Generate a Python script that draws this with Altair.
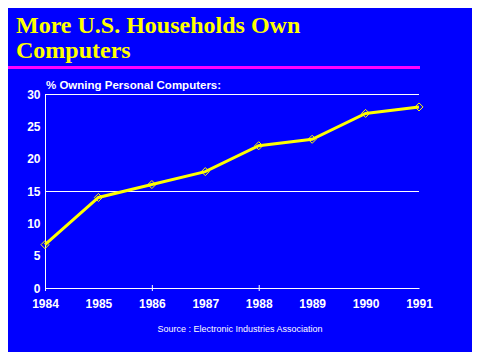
import altair as alt
import pandas as pd

years = [1984, 1985, 1986, 1987, 1988, 1989, 1990, 1991]
pct = [6.7, 14, 16, 18, 22, 23, 27, 28]
y_labels = [0, 5, 10, 15, 20, 25, 30]
grid_values = [15, 30]
tick_years = [1984, 1986, 1988]
title_lines = ["More U.S. Households Own", "Computers"]
subtitle = "% Owning Personal Computers:"
source = "Source : Electronic Industries Association"

YELLOW = "#ffff00"
WHITE = "#ffffff"
BLUE = "#0000ff"

df = pd.DataFrame({"year": years, "pct": pct})

xs = alt.Scale(domain=[1984, 1991], nice=False, zero=False)
ys = alt.Scale(domain=[0, 30], nice=False)

xaxis = alt.Axis(values=years, format="d", labelColor=WHITE, labelFont="Liberation Sans",
                 labelFontWeight="bold", labelFontSize=12, ticks=False, labelPadding=10,
                 domainColor=WHITE, domainWidth=1, grid=False, labelFlush=False)
yaxis = alt.Axis(values=y_labels, labelColor=WHITE, labelFont="Liberation Sans",
                 labelFontWeight="bold", labelFontSize=12, ticks=False, labelPadding=5,
                 domainColor=WHITE, domainWidth=1, grid=False)

base = alt.Chart(df)

grid = alt.Chart(pd.DataFrame({"g": grid_values})).mark_rule(color=WHITE, strokeWidth=1, yOffset=0.5).encode(
    y=alt.Y("g:Q", scale=ys, axis=yaxis, title=None),
    x=alt.value(0), x2=alt.value(374),
)

ticks = alt.Chart(pd.DataFrame({"t": tick_years})).mark_rule(color=WHITE, strokeWidth=1, xOffset=0.5).encode(
    x=alt.X("t:Q", scale=xs, axis=xaxis, title=None),
    y=alt.value(191), y2=alt.value(197),
)

line = base.mark_line(color=YELLOW, strokeWidth=3).encode(
    x=alt.X("year:Q", scale=xs, axis=xaxis, title=None),
    y=alt.Y("pct:Q", scale=ys, axis=yaxis, title=None),
)

points = base.mark_point(shape="diamond", filled=False, color=YELLOW, strokeWidth=1, size=65, opacity=1).encode(
    x=alt.X("year:Q", scale=xs, axis=xaxis, title=None),
    y=alt.Y("pct:Q", scale=ys, axis=yaxis, title=None),
)

def text_layer(txt, x, y, **kw):
    return alt.Chart(pd.DataFrame({"s": [txt]})).mark_text(baseline="alphabetic", **kw).encode(
        text="s:N", x=alt.value(x), y=alt.value(y))

title1 = text_layer(title_lines[0], -29, -61, color=YELLOW, font="Liberation Serif",
                    fontWeight="bold", fontSize=24, align="left")
title2 = text_layer(title_lines[1], -29, -36, color=YELLOW, font="Liberation Serif",
                    fontWeight="bold", fontSize=24, align="left")

magenta = alt.Chart(pd.DataFrame({"a": [0]})).mark_rule(color="#ff00ff", strokeWidth=3).encode(
    x=alt.value(-44), x2=alt.value(375), y=alt.value(-26.5),
)

sub = text_layer(subtitle, 1, -5, color=WHITE, font="Liberation Sans", fontWeight="bold",
                 fontSize=11.5, align="left")
src = text_layer(source, 195, 238, color=WHITE, font="Liberation Sans", fontSize=9, align="center")

chart = alt.layer(grid, ticks, line, points, title1, title2, magenta, sub, src).properties(
    width=374, height=194, autosize="none",
    padding={"left": 37, "top": 86, "right": 53, "bottom": 64},
    background=BLUE,
).configure_view(strokeWidth=0)

chart.save("out.html", embed_options={"renderer": "svg", "actions": False})
